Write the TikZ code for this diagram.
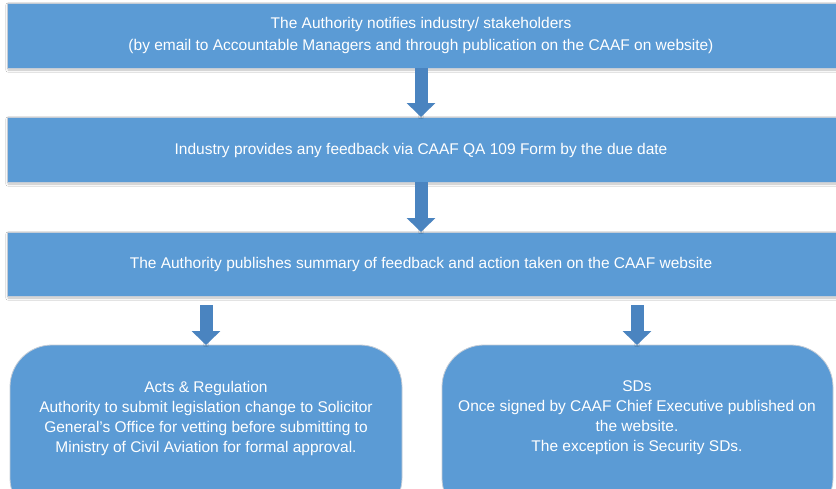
\documentclass[tikz,border=0pt]{standalone}
\usepackage{fontspec}
\setmainfont{Liberation Sans}
\usetikzlibrary{arrows.meta,shadows.blur,calc}
\definecolor{boxblue}{HTML}{5B9BD5}
\definecolor{arrowblue}{HTML}{4A84C0}
\definecolor{edgegray}{HTML}{C4CCD6}
\tikzset{
  stepbar/.style={draw=edgegray, line width=0.8pt, fill=boxblue,
    blur shadow={shadow xshift=1pt, shadow yshift=-2pt, shadow blur steps=5, shadow opacity=25}},
  outcome/.style={draw=edgegray, line width=0.8pt, fill=boxblue, rounded corners=42pt},
  steptext/.style={text=white, align=center, font=\fontsize{15.5}{22}\selectfont},
  outcometext/.style={text=white, align=center, font=\fontsize{15.5}{20}\selectfont},
  flowarrow/.style={arrowblue, line width=13pt, line cap=butt,
    -{Triangle[width=28pt,length=14pt]},
    blur shadow={shadow xshift=0pt, shadow yshift=-1.5pt, shadow blur steps=4, shadow opacity=30}}
}
\begin{document}
\begin{tikzpicture}[x=1pt,y=-1pt]
  \useasboundingbox (0,0) rectangle (836,488);
  \fill[white] (0,0) rectangle (836,488);

  % three full-width process stages
  \path[stepbar] (7,3) rectangle (840,68);
  \node[steptext] (notify) at (421,35)
    {The Authority notifies industry/ stakeholders\\
     (by email to Accountable Managers and through publication on the CAAF on website)};
  \path[stepbar] (7,117) rectangle (840,182);
  \node[steptext] (feedback) at (421,150)
    {Industry provides any feedback via CAAF QA 109 Form by the due date};
  \path[stepbar] (7,232) rectangle (840,296);
  \node[steptext] (summary) at (421,264)
    {The Authority publishes summary of feedback and action taken on the CAAF website};

  % anchors on the stage edges
  \coordinate (s1) at (421,68);
  \coordinate (s2t) at (421,117);
  \coordinate (s2) at (421,182);
  \coordinate (s3t) at (421,232);
  \coordinate (s3) at (421,296);

  % two outcome boxes
  \path[outcome] (10,345) rectangle (402,520);
  \node[outcometext] (acts) at (206,418)
    {Acts \& Regulation\\
     Authority to submit legislation change to Solicitor\\
     General’s Office for vetting before submitting to\\
     Ministry of Civil Aviation for formal approval.};
  \path[outcome] (442,345) rectangle (833,520);
  \node[outcometext] (sds) at (637,418)
    {SDs\\
     Once signed by CAAF Chief Executive published on\\
     the website.\\
     The exception is Security SDs.};
  \coordinate (actsTop) at (206,345);
  \coordinate (sdsTop) at (637,345);

  % block arrows between stages
  \draw[flowarrow] (s1) -- (s2t);
  \draw[flowarrow] (s2) -- (s3t);
  \draw[flowarrow] (s3 -| actsTop) ++(0,9) -- (actsTop);
  \draw[flowarrow] (s3 -| sdsTop) ++(0,9) -- (sdsTop);
\end{tikzpicture}
\end{document}
